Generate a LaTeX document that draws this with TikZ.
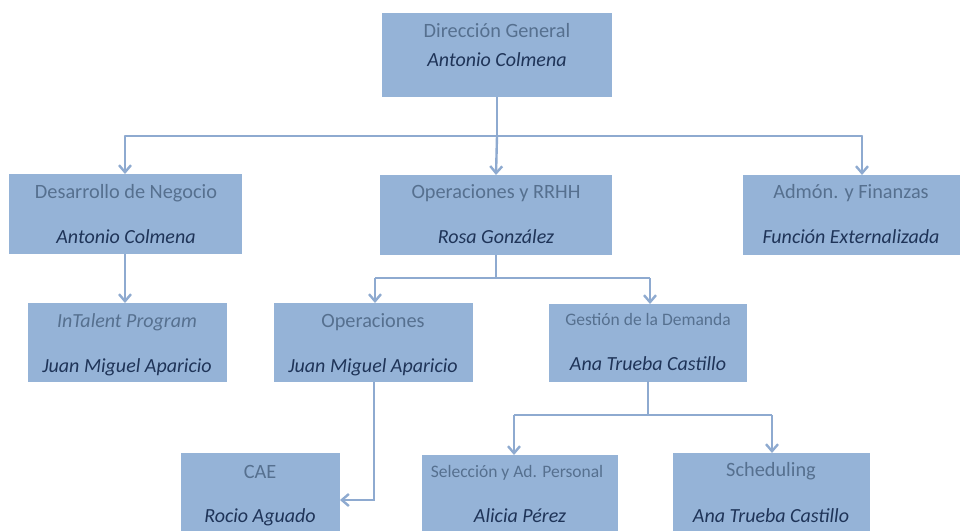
\documentclass[tikz,border=0pt]{standalone}
\usepackage{fontspec}
\setmainfont{Carlito}
\usetikzlibrary{arrows.meta}
\definecolor{boxfill}{HTML}{95B3D7}
\definecolor{linec}{HTML}{8EAAD0}
\definecolor{titc}{HTML}{56708F}
\definecolor{namec}{HTML}{1F3458}
\begin{document}
\begin{tikzpicture}[x=1pt,y=-1pt,
  box/.style={fill=boxfill, draw=none, inner sep=0pt, outer sep=0pt, anchor=north west},
  tit/.style={text=titc, anchor=base, inner sep=0pt, font=\fontsize{20.3}{24}\selectfont},
  stit/.style={text=titc, anchor=base, inner sep=0pt, font=\fontsize{17.5}{20}\selectfont},
  nam/.style={text=namec, anchor=base, inner sep=0pt, font=\fontsize{20}{24}\selectfont\itshape},
  ln/.style={draw=linec, line width=2.4pt},
  arr/.style={-{Straight Barb[length=7pt,width=12pt]}}]
\clip (0,0) rectangle (965,530);
\fill[white] (0,0) rectangle (965,530);
% boxes
\node[box, minimum width=230pt, minimum height=84pt] (dg) at (382,13) {};
\node[box, minimum width=233pt, minimum height=80pt] (dn) at (9,174) {};
\node[box, minimum width=232pt, minimum height=80pt] (ops) at (380,175) {};
\node[box, minimum width=217pt, minimum height=80pt] (adm) at (743,175) {};
\node[box, minimum width=199pt, minimum height=79pt] (intal) at (28,303) {};
\node[box, minimum width=199pt, minimum height=79pt] (op) at (274,303) {};
\node[box, minimum width=198pt, minimum height=78pt] (gd) at (549,304) {};
\node[box, minimum width=159pt, minimum height=94pt] (cae) at (181,453) {};
\node[box, minimum width=196pt, minimum height=94pt] (sel) at (422,455) {};
\node[box, minimum width=197pt, minimum height=94pt] (sch) at (673,453) {};
% texts
\node[tit] (dgt) at (497,37) {Dirección General};
\node[nam] (dgn) at (497,66) {Antonio Colmena};
\node[tit] (dnt) at (126,198) {Desarrollo de Negocio};
\node[nam] (dnn) at (126,243) {Antonio Colmena};
\node[tit] (opst) at (496,198) {Operaciones y RRHH};
\node[nam] (opsn) at (496,243) {Rosa González};
\node[tit] (admt) at (851,198) {Admón. y Finanzas};
\node[nam] (admn) at (851,243) {Función Externalizada};
\node[tit, font=\fontsize{20}{24}\selectfont\itshape] (intalt) at (127,327) {InTalent Program};
\node[nam] (intaln) at (127,372) {Juan Miguel Aparicio};
\node[tit] (opt) at (373,327) {Operaciones};
\node[nam] (opn) at (373,372) {Juan Miguel Aparicio};
\node[stit] (gdt) at (648,325) {Gestión de la Demanda};
\node[nam] (gdn) at (648,370) {Ana Trueba Castillo};
\node[tit] (caet) at (260,478) {CAE};
\node[nam] (caen) at (260,522) {Rocio Aguado};
\node[stit] (selt) at (517,477) {Selección y Ad. Personal};
\node[nam] (seln) at (520,522) {Alicia Pérez};
\node[tit] (scht) at (771,476) {Scheduling};
\node[nam] (schn) at (771,522) {Ana Trueba Castillo};
% connectors level 1
\coordinate (b1) at (125,136);
\coordinate (b3) at (862,136);
\draw[ln] (dg.south) -- (dg.south |- b1);
\draw[ln, line cap=round] (b1) -- (b3);
\draw[ln,arr] (b1) -- (dn.north -| b1);
\draw[ln,arr] (dg.south |- b1) -- (ops.north);
\draw[ln,arr] (b3) -- (adm.north -| b3);
% desarrollo -> intalent
\coordinate (d1) at (125,254);
\draw[ln,arr] (d1) -- (intal.north -| d1);
% ops -> op, gd
\coordinate (c1) at (375,278);
\coordinate (c3) at (650,278);
\draw[ln] (ops.south) -- (ops.south |- c1);
\draw[ln] (c1) -- (c3);
\draw[ln,arr] (c1) -- (op.north -| c1);
\draw[ln,arr] (c3) -- (gd.north -| c3);
% op -> cae
\coordinate (e1) at (374,382);
\draw[ln,arr] (e1) |- (cae.east);
% gd -> sel, sch
\coordinate (g0) at (648,381);
\coordinate (g1) at (514,415);
\coordinate (g3) at (772,415);
\draw[ln] (g0) -- (g0 |- g1);
\draw[ln] (g1) -- (g3);
\draw[ln,arr] (g1) -- (sel.north -| g1);
\draw[ln,arr] (g3) -- (sch.north -| g3);
\end{tikzpicture}
\end{document}
